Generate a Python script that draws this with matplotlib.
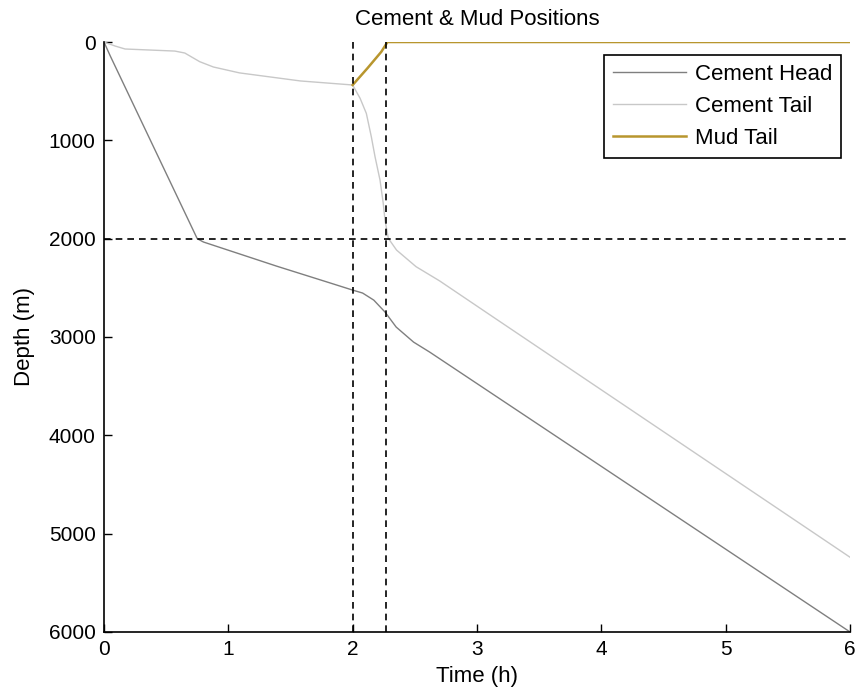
import matplotlib.pyplot as plt
import numpy as np

plt.rcParams['font.family'] = ['Liberation Sans', 'DejaVu Sans']

# Cement head position (time in h, depth in m)
head_t = [0.0, 0.05, 0.75, 0.80, 1.39, 1.82, 2.00, 2.08, 2.17, 2.26, 2.35, 2.49, 2.62, 6.0]
head_d = [0, 140, 2000, 2034, 2280, 2451, 2523, 2553, 2625, 2746, 2899, 3052, 3154, 6000]

# Cement tail position
tail_t = [0.0, 0.09, 0.17, 0.57, 0.65, 0.77, 0.88, 1.09, 1.58, 2.00, 2.06, 2.11, 2.15,
          2.18, 2.22, 2.246, 2.26, 2.287, 2.353, 2.51, 2.70, 3.13, 6.0]
tail_d = [0, 41, 71, 92, 112, 200, 254, 314, 396, 437, 573, 726, 963,
          1167, 1404, 1641, 1811, 1997, 2116, 2285, 2430, 2797, 5240]

# Mud tail position
mud_t = [2.0, 2.12, 2.23, 2.27, 2.28, 6.0]
mud_d = [437, 265, 100, 20, 0, 0]

t_marks = [2.0, 2.27]
d_mark = 2000

fig = plt.figure(figsize=(8.55, 6.98), dpi=100)
ax = fig.add_axes([0.1216, 0.0946, 0.8726, 0.8452])

ax.plot(head_t, head_d, color='#7f7f7f', lw=1.0, label='Cement Head')
ax.plot(tail_t, tail_d, color='#c8c8c8', lw=1.0, label='Cement Tail')
ax.plot(mud_t, mud_d, color='#b8962e', lw=1.8, label='Mud Tail')

for t in t_marks:
    ax.axvline(t, color='black', ls=(0, (4, 3)), lw=1.2)
ax.axhline(d_mark, color='black', ls=(0, (4, 3)), lw=1.2)

ax.set_xlim(0, 6)
ax.set_ylim(6000, 0)
ax.set_xticks(np.arange(0, 7, 1))
ax.set_yticks(np.arange(0, 7000, 1000))

for s in ['top', 'right']:
    ax.spines[s].set_visible(False)
ax.spines['left'].set_linewidth(1.2)
ax.spines['bottom'].set_linewidth(1.2)
ax.tick_params(direction='in', length=5.5, width=1.0, labelsize=15, pad=6)

ax.set_xlabel('Time (h)', fontsize=16, labelpad=5)
ax.set_ylabel('Depth (m)', fontsize=16, labelpad=10)
ax.set_title('Cement & Mud Positions', fontsize=16, pad=12)

leg = ax.legend(loc='upper right', fontsize=16, fancybox=False, framealpha=1,
                edgecolor='black', borderpad=0.4, labelspacing=0.5,
                handlelength=3.3, handletextpad=0.4, borderaxespad=0,
                bbox_to_anchor=(0.988, 0.978))
leg.get_frame().set_linewidth(1.2)

fig.savefig('out.png', dpi=100)
plt.close(fig)
